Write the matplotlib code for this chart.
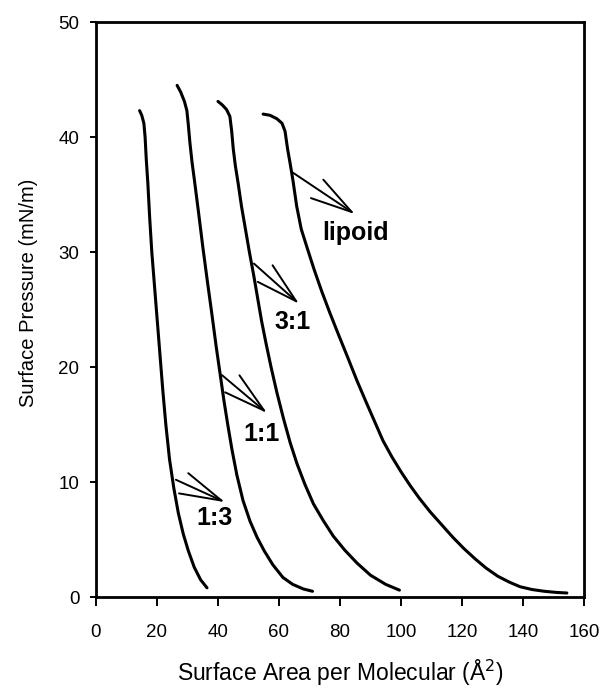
import matplotlib
matplotlib.use("Agg")
import matplotlib.pyplot as plt

plt.rcParams["font.family"] = ["Liberation Sans", "DejaVu Sans"]

# Compression isotherms: area per molecule (A^2) vs surface pressure (mN/m)
area_13 = [14.3, 15.0, 15.7, 16.1, 16.5, 17.0, 17.6, 18.3, 19.2, 20.1, 21.0, 21.9,
           22.9, 24.1, 25.5, 27.0, 28.6, 30.3, 32.2, 34.3, 36.4]
pres_13 = [42.3, 41.9, 41.2, 40.0, 38.0, 36.0, 33.0, 30.0, 27.0, 24.0, 21.0, 18.0,
           15.0, 12.0, 9.5, 7.3, 5.5, 4.0, 2.6, 1.5, 0.8]

area_11 = [26.6, 27.8, 29.0, 29.8, 30.3, 30.8, 31.5, 32.3, 33.6, 35.0, 36.5, 38.0,
           39.4, 40.7, 42.0, 43.2, 44.6, 46.2, 48.2, 50.5, 52.8, 55.2, 58.0, 61.3,
           64.5, 68.0, 71.0]
pres_11 = [44.5, 43.9, 43.1, 42.3, 41.0, 39.5, 37.8, 36.2, 33.5, 30.5, 27.5, 24.6,
           21.8, 19.4, 17.0, 15.0, 12.8, 10.6, 8.4, 6.6, 5.2, 4.0, 2.8, 1.7,
           1.1, 0.7, 0.5]

area_31 = [40.0, 41.4, 42.8, 43.9, 44.5, 45.0, 45.7, 46.6, 47.7, 49.0, 50.3, 51.7,
           53.0, 54.3, 55.8, 57.4, 59.3, 61.5, 63.7, 65.9, 68.5, 71.3, 74.4, 77.8,
           81.5, 85.6, 90.0, 95.0, 99.5]
pres_31 = [43.1, 42.8, 42.4, 41.8, 40.5, 39.0, 37.5, 36.0, 34.0, 32.0, 30.0, 28.0,
           26.0, 24.0, 22.0, 20.0, 17.8, 15.5, 13.4, 11.6, 9.8, 8.1, 6.7, 5.3,
           4.1, 2.95, 1.9, 1.1, 0.6]

area_lip = [54.8, 57.0, 59.3, 61.0, 62.0, 62.8, 63.6, 64.6, 65.8, 67.3, 69.2, 71.5,
            74.0, 76.7, 79.7, 82.6, 85.6, 88.5, 91.3, 94.1, 97.0, 100.0, 103.0,
            106.0, 109.6, 113.3, 117.0, 120.7, 124.4, 128.0, 131.8, 135.5, 139.0,
            143.0, 147.0, 151.0, 154.4]
pres_lip = [42.0, 41.9, 41.6, 41.2, 40.5, 39.0, 37.8, 36.2, 34.0, 32.0, 30.4, 28.5,
            26.6, 24.7, 22.7, 20.8, 18.8, 17.0, 15.3, 13.6, 12.2, 10.9, 9.7,
            8.6, 7.4, 6.3, 5.2, 4.2, 3.3, 2.5, 1.8, 1.3, 0.9,
            0.65, 0.5, 0.4, 0.35]

# label text, arrow tail on the curve, arrow tip, label position
labels = ["lipoid", "3:1", "1:1", "1:3"]
arrow_tail = [(64.6, 36.9), (51.8, 29.0), (41.3, 19.3), (26.2, 10.2)]
arrow_tip = [(84.9, 33.3), (66.6, 25.5), (56.1, 16.0), (42.3, 8.25)]
label_pos = [(85.2, 31.7), (64.6, 23.9), (54.4, 14.2), (38.7, 6.9)]

fig = plt.figure(figsize=(6.13, 6.91), dpi=100)
ax = fig.add_axes([0.1566, 0.136, 0.796, 0.832])

for xs, ys in [(area_13, pres_13), (area_11, pres_11), (area_31, pres_31), (area_lip, pres_lip)]:
    ax.plot(xs, ys, color="black", lw=2.2, solid_capstyle="round", solid_joinstyle="round")

for lab, tail, tip, pos in zip(labels, arrow_tail, arrow_tip, label_pos):
    ax.annotate("", xy=tip, xytext=tail,
                arrowprops=dict(arrowstyle="->,head_length=30,head_width=8",
                                mutation_scale=1, lw=1.4, color="black",
                                shrinkA=0, shrinkB=0))
    ax.text(pos[0], pos[1], lab, fontsize=18, fontweight="bold",
            ha="center", va="center")

ax.set_xlim(0, 160)
ax.set_ylim(0, 50)
ax.set_xticks(range(0, 161, 20))
ax.set_yticks(range(0, 51, 10))
for s in ax.spines.values():
    s.set_linewidth(2.0)
ax.tick_params(axis="x", direction="out", length=6.5, width=1.4, pad=13, labelsize=13.5)
ax.tick_params(axis="y", direction="out", length=4, width=1.4, pad=8, labelsize=13.5)

ax.set_xlabel("Surface Area per Molecular (Å$^2$)", fontsize=16.5, labelpad=12)
ax.set_ylabel("Surface Pressure (mN/m)", fontsize=14.5)
ax.yaxis.set_label_coords(-0.118, 0.53)

fig.savefig("out.png", dpi=100)
